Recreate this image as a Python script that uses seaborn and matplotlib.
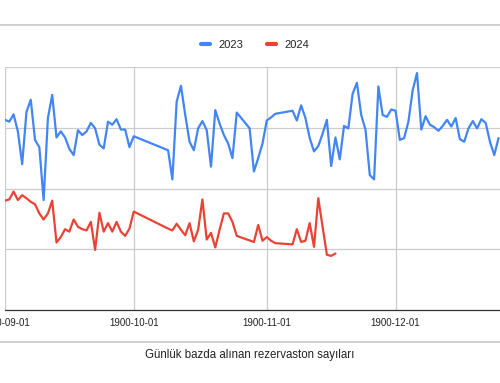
import matplotlib
matplotlib.use("Agg")
import matplotlib.pyplot as plt
import matplotlib.dates as mdates
from matplotlib.lines import Line2D
import seaborn as sns
import pandas as pd

# day offsets from 1900-09-01
days_2023 = [0, 1, 2, 3, 4, 5, 6, 7, 8, 9, 10, 11, 12, 13, 14, 15, 16, 17, 18, 19,
             20, 21, 22, 23, 24, 25, 26, 27, 28, 29, 30,
             38, 39, 40, 41, 42, 43, 44, 45, 46, 47, 48, 49, 50, 51, 52, 53, 54,
             57, 58, 59, 60, 61, 62, 63,
             67, 68, 69, 70, 71, 72, 73, 74, 75, 76, 77, 78, 79, 80, 81, 82, 83, 84,
             85, 86, 87, 88, 89, 90, 91, 92, 93, 94, 95, 96, 97, 98, 99, 100, 101,
             102, 103, 104, 105, 106, 107, 108, 109, 110, 111, 112, 113, 114, 115]
vals_2023 = [31.3, 31.0, 32.2, 29.4, 24.0, 32.6, 34.6, 28.0, 26.8, 18.1, 31.6, 35.4,
             28.4, 29.4, 28.4, 26.5, 25.5, 29.6, 28.8, 29.4, 30.8, 29.9, 27.2, 26.6,
             31.0, 30.5, 31.4, 29.7, 29.7, 26.8, 28.6,
             26.3, 21.5, 34.3, 36.9, 32.1, 27.7, 26.3, 29.9, 31.1, 29.6, 23.6, 32.9,
             30.7, 28.8, 27.4, 25.0, 32.5,
             29.9, 22.8, 25.0, 27.4, 31.2, 31.7, 32.3,
             32.8, 31.2, 33.7, 31.6, 28.3, 26.1, 27.0, 29.0, 31.3, 23.7, 28.4, 24.8,
             30.3, 29.9, 35.6, 37.4, 32.1, 29.7, 22.2, 21.5, 36.8, 32.1, 31.8, 33.0,
             32.8, 28.0, 28.3, 31.0, 36.2, 39.0, 29.7, 31.9, 30.5, 30.1, 29.5, 30.3,
             31.3, 30.2, 31.6, 28.1, 27.7, 29.9, 31.1, 29.9, 31.4, 30.8, 27.7, 25.5,
             28.3]

days_2024 = [0, 1, 2, 3, 4, 5, 6, 7, 8, 9, 10, 11, 12, 13, 14, 15, 16, 17, 18, 19,
             20, 21, 22, 23, 24, 25, 26, 27, 28, 29, 30,
             38, 39, 40, 41, 42, 43, 44, 45, 46, 47, 48, 49, 50, 51, 52, 53, 54,
             58, 59, 60, 61, 62, 63,
             67, 68, 69, 70, 71, 72, 73, 74, 75, 76, 77]
vals_2024 = [18.0, 18.2, 19.5, 18.1, 18.9, 18.4, 17.8, 17.4, 15.9, 14.9, 15.9, 18.0,
             11.1, 12.0, 13.3, 12.9, 14.9, 13.7, 13.3, 13.1, 14.5, 9.9, 16.0, 12.9,
             14.3, 12.9, 14.5, 12.9, 12.2, 13.4, 16.2,
             13.4, 13.1, 14.2, 13.2, 12.3, 14.3, 11.3, 13.2, 18.2, 11.6, 12.7, 10.3,
             13.2, 15.9, 15.9, 14.5, 12.2,
             11.2, 14.0, 11.4, 12.0, 11.4, 11.0,
             10.8, 13.3, 11.2, 11.4, 14.3, 10.4, 18.4, 13.7, 9.1, 8.9, 9.3]

start = pd.Timestamp("1900-09-01")
month_ticks = ["1900-09-01", "1900-10-01", "1900-11-01", "1900-12-01"]
title = "Günlük bazda alınan rezervaston sayıları"
colors = {"2023": "#4285F4", "2024": "#EA4335"}

df = pd.concat([
    pd.DataFrame({"date": start + pd.to_timedelta(days_2023, unit="D"),
                  "value": vals_2023, "year": "2023"}),
    pd.DataFrame({"date": start + pd.to_timedelta(days_2024, unit="D"),
                  "value": vals_2024, "year": "2024"}),
])

sns.set_style("white")
plt.rcParams["font.family"] = ["Liberation Sans", "DejaVu Sans"]

fig = plt.figure(figsize=(5, 3.83), dpi=100)
ax = fig.add_axes([0.01, 73 / 383, 1.03, 243 / 383])

sns.lineplot(data=df, x="date", y="value", hue="year", palette=colors,
             linewidth=1.6, ax=ax, legend=False, estimator=None, sort=False)

ax.set_xlim(start, start + pd.Timedelta(days=120))
ax.set_ylim(0, 40)
ax.set_yticks([0, 10, 20, 30, 40])
ax.set_yticklabels([])
ax.set_xticks(pd.to_datetime(month_ticks))
ax.xaxis.set_major_formatter(mdates.DateFormatter("%Y-%m-%d"))
ax.tick_params(axis="both", length=0)
ax.tick_params(axis="x", labelsize=7, colors="#222222", pad=6)
ax.grid(True, color="#cccccc", linewidth=0.9)
ax.set_axisbelow(True)
for side in ["top", "right", "left"]:
    ax.spines[side].set_visible(False)
ax.spines["bottom"].set_color("#333333")
ax.spines["bottom"].set_linewidth(0.9)
ax.set_xlabel("")
ax.set_ylabel("")

# legend on top
handles = [Line2D([], [], color=colors[k], linewidth=3) for k in colors]
fig.legend(handles, list(colors.keys()), loc="center", bbox_to_anchor=(0.51, 0.8825),
           ncol=2, frameon=False, fontsize=8, handlelength=0.8, handletextpad=0.7,
           columnspacing=2.2, labelcolor="#222222")

# container borders
fig.add_artist(Line2D([0, 1], [1 - 25 / 383] * 2, color="#c8c8c8", lw=1.2))
fig.add_artist(Line2D([0, 1], [1 - 342 / 383] * 2, color="#c8c8c8", lw=1.2))

fig.text(0.5, 1 - 355 / 383, title, ha="center", va="center", fontsize=8.3, color="#222222")

fig.savefig("out.png", dpi=100)
